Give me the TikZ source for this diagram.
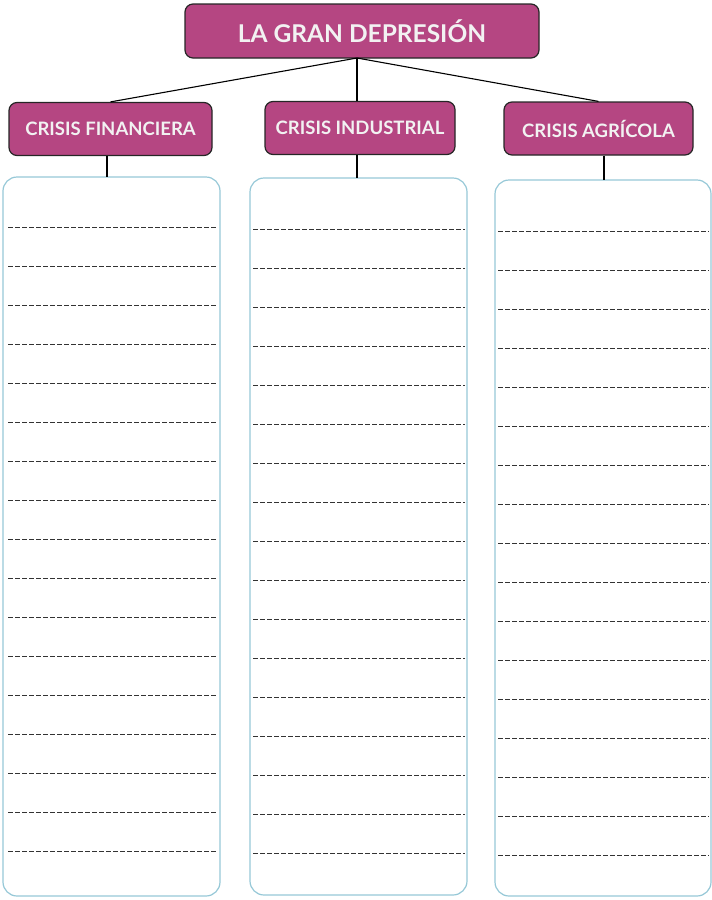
\documentclass[tikz,border=0pt]{standalone}
\usepackage{fontspec}
\setmainfont{Lato}
\definecolor{crisismagenta}{RGB}{181,70,130}
\definecolor{boxblue}{RGB}{150,200,215}
\tikzset{
  titlebox/.style={draw=black!85, line width=1.2pt, fill=crisismagenta, rounded corners=8pt,
    text=white!95!black, font=\bfseries\fontsize{24.5}{28}\selectfont, minimum width=354pt, minimum height=54pt},
  subbox/.style={draw=black!85, line width=1.2pt, fill=crisismagenta, rounded corners=8pt,
    text=white!95!black, font=\bfseries\fontsize{18.5}{21}\selectfont, minimum height=53pt},
  answerbox/.style={draw=boxblue, line width=1.2pt, rounded corners=14pt},
  writeline/.style={black!80, dash pattern=on 4.5pt off 2.5pt, line width=1pt},
  link/.style={black, line width=1.1pt}
}
\begin{document}
\begin{tikzpicture}[x=1pt,y=-1pt]
  \useasboundingbox (0,0) rectangle (712,900);
  % title and the three crises
  \node[titlebox] (gran) at (362,31) {LA GRAN DEPRESIÓN};
  \node[subbox, minimum width=203pt] (finan) at (110.5,129) {CRISIS FINANCIERA};
  \node[subbox, minimum width=190pt] (indus) at (360,128) {CRISIS INDUSTRIAL};
  \node[subbox, minimum width=189pt] (agri) at (598.5,128.5) {CRISIS AGRÍCOLA};
  \coordinate (top) at (357,58);
  \draw[link] (top) -- (finan.north);
  \draw[link] (top) -- (indus.north -| top);
  \draw[link] (top) -- (agri.north);
  % answer boxes
  \draw[answerbox] (3,177) rectangle (220,896);
  \draw[answerbox] (250,178) rectangle (467,895);
  \draw[answerbox] (495,180) rectangle (711,896);
  \coordinate (finanbox) at (107,177);
  \coordinate (indusbox) at (357,178);
  \coordinate (agribox) at (604,180);
  \draw[link] (finan.south -| finanbox) -- (finanbox);
  \draw[link] (indus.south -| indusbox) -- (indusbox);
  \draw[link] (agri.south -| agribox) -- (agribox);
  % lines to write on
  \foreach \i in {0,...,16} {
    \draw[writeline] (8,227+39*\i) -- (217,227+39*\i);
    \draw[writeline] (253,229+39*\i) -- (465,229+39*\i);
    \draw[writeline] (498,231+39*\i) -- (709,231+39*\i);
  }
\end{tikzpicture}
\end{document}
